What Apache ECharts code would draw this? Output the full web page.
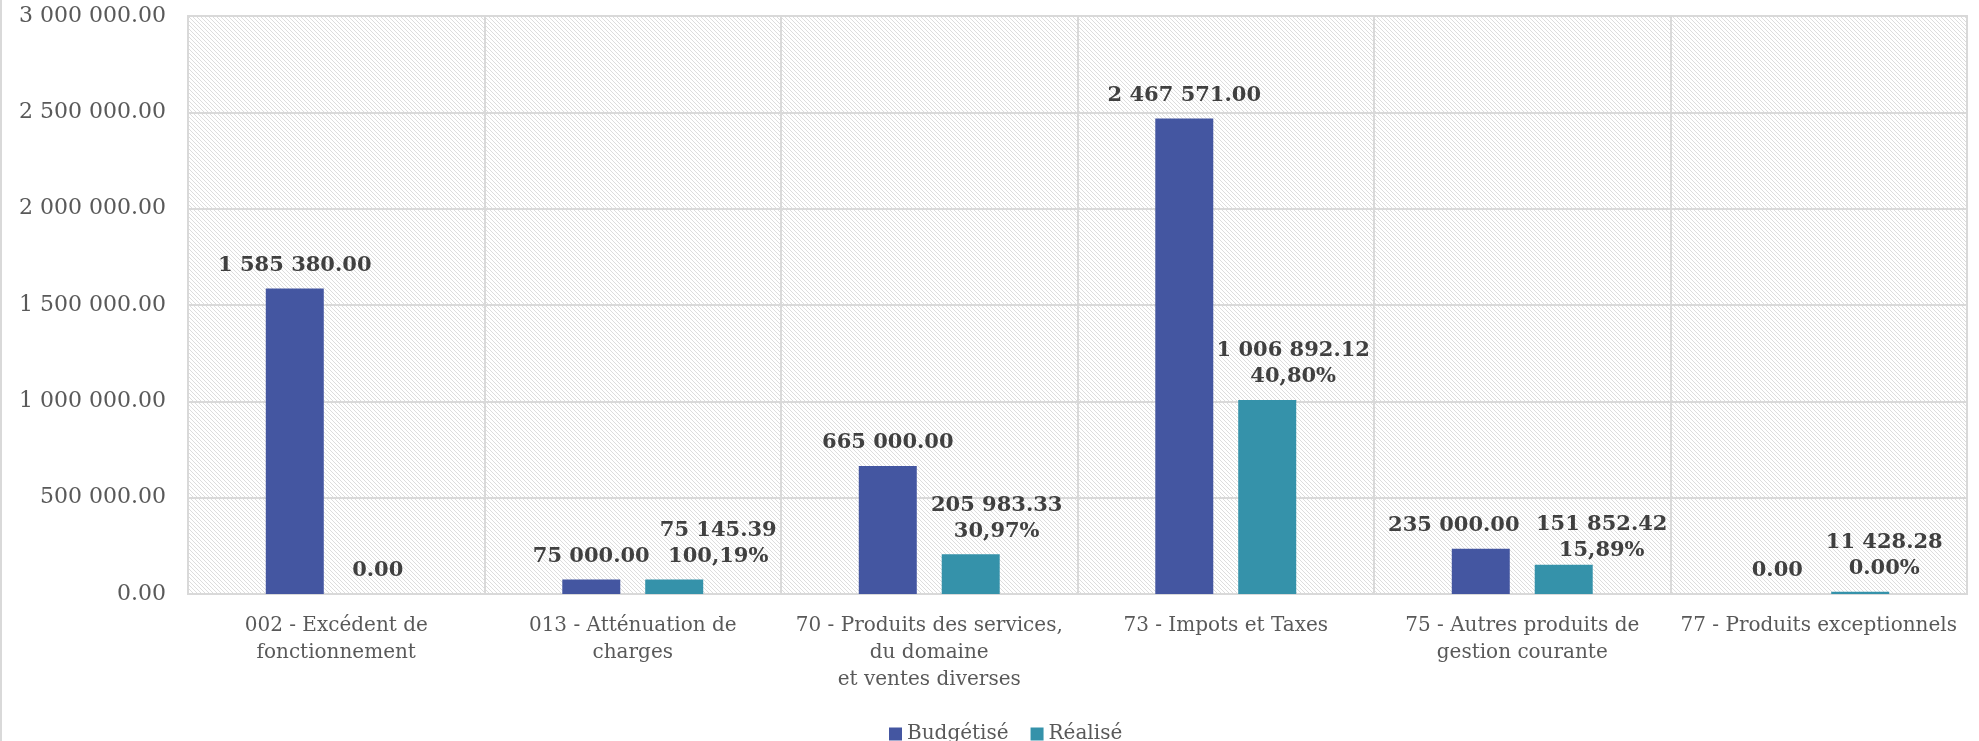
<!DOCTYPE html>
<html>
<head>
<meta charset="utf-8">
<script src="https://cdn.jsdelivr.net/npm/echarts@6/dist/echarts.min.js"></script>
<style>
html,body{margin:0;padding:0;background:#fff;}
#chart{width:1979px;height:741px;}
</style>
</head>
<body>
<div id="chart"></div>
<script>
const categories = [
  "002 - Excédent de\nfonctionnement",
  "013 - Atténuation de\ncharges",
  "70 - Produits des services,\ndu domaine\net ventes diverses",
  "73 - Impots et Taxes",
  "75 - Autres produits de\ngestion courante",
  "77 - Produits exceptionnels"
];
const budgetise = [1585380.00, 75000.00, 665000.00, 2467571.00, 235000.00, 0.00];
const realise = [0.00, 75145.39, 205983.33, 1006892.12, 151852.42, 11428.28];
const realisePct = ["", "100,19%", "30,97%", "40,80%", "15,89%", "0.00%"];
const seriesNames = ["Budgétisé", "Réalisé"];
const yTicks = { min: 0, max: 3000000, interval: 500000 };

const FONT = "DejaVu Serif";

function fmt(v) {
  const parts = Number(v).toFixed(2).split('.');
  return parts[0].replace(/\B(?=(\d{3})+(?!\d))/g, ' ') + '.' + parts[1];
}

// hatched pattern (light downward diagonal)
const pc = document.createElement('canvas');
pc.width = 8; pc.height = 8;
const pctx = pc.getContext('2d');
pctx.fillStyle = '#ffffff';
pctx.fillRect(0, 0, 8, 8);
pctx.fillStyle = '#dddddd';
for (let y = 0; y < 8; y++) {
  for (let x = 0; x < 8; x++) {
    if (((x - y) % 4 + 4) % 4 === 0) pctx.fillRect(x, y, 1, 1);
  }
}

const blueOffsets = [[0, 0], [0, 0], [0, 0], [0, 0], [-27, 0], [0, 0]];
const tealOffsets = [[0, 0], [44, 0], [26, 0], [26, 0], [38, 9], [24, 0]];

const chart = echarts.init(document.getElementById('chart'), null, { renderer: 'canvas' });

const labelStyle = {
  show: true,
  position: 'top',
  distance: 10,
  fontFamily: FONT,
  fontWeight: 'bold',
  fontSize: 21,
  lineHeight: 26,
  color: '#404040'
};

chart.setOption({
  animation: false,
  backgroundColor: '#ffffff',
  textStyle: { fontFamily: FONT },
  graphic: [{
    type: 'rect',
    shape: { x: 0, y: 0, width: 2, height: 741 },
    style: { fill: '#d9d9d9' },
    silent: true
  }],
  grid: {
    left: 188, right: 12, top: 16, bottom: 147,
    show: true,
    backgroundColor: { image: pc, repeat: 'repeat' },
    borderColor: '#d9d9d9',
    borderWidth: 2
  },
  legend: {
    left: 884,
    top: 719,
    icon: 'rect',
    itemWidth: 13,
    itemHeight: 13,
    itemGap: 22,
    textStyle: { fontFamily: FONT, fontSize: 20, color: '#595959' },
    data: seriesNames
  },
  xAxis: {
    type: 'category',
    data: categories,
    axisLine: { show: true, lineStyle: { color: '#d9d9d9', width: 2 } },
    axisTick: { show: false },
    splitLine: { show: true, interval: 0, lineStyle: { color: '#d9d9d9', width: 2 } },
    axisLabel: {
      interval: 0,
      margin: 18,
      fontFamily: FONT,
      fontSize: 20,
      lineHeight: 27,
      color: '#595959',
      verticalAlign: 'top'
    }
  },
  yAxis: {
    type: 'value',
    min: yTicks.min,
    max: yTicks.max,
    interval: yTicks.interval,
    axisLine: { show: false },
    axisTick: { show: false },
    splitLine: { show: true, lineStyle: { color: '#d9d9d9', width: 2 } },
    axisLabel: {
      margin: 22,
      fontFamily: FONT,
      fontSize: 22,
      color: '#595959',
      formatter: v => fmt(v)
    }
  },
  series: [
    {
      name: seriesNames[0],
      type: 'bar',
      barWidth: 58,
      barGap: '43%',
      itemStyle: { color: '#4456A1' },
      label: Object.assign({}, labelStyle, { formatter: p => fmt(p.value) }),
      data: budgetise.map((v, i) => ({ value: v, label: { offset: blueOffsets[i] } }))
    },
    {
      name: seriesNames[1],
      type: 'bar',
      barWidth: 58,
      barGap: '43%',
      itemStyle: { color: '#3592AA' },
      label: Object.assign({}, labelStyle, {
        formatter: p => realisePct[p.dataIndex] ? fmt(p.value) + '\n' + realisePct[p.dataIndex] : fmt(p.value)
      }),
      data: realise.map((v, i) => ({ value: v, label: { offset: tealOffsets[i] } }))
    }
  ]
});
</script>
</body>
</html>
